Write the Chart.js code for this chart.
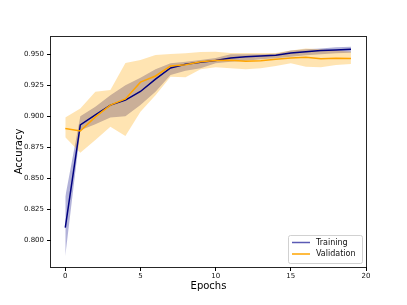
<!DOCTYPE html>
<html>
<head>
<meta charset="utf-8">
<script src="https://cdn.jsdelivr.net/npm/chart.js@4"></script>
<style>
html,body{margin:0;padding:0;background:#fff;}
canvas{display:block;}
</style>
</head>
<body>
<canvas id="c" width="407" height="305"></canvas>
<script>
const epochs = [0,1,2,3,4,5,6,7,8,9,10,11,12,13,14,15,16,17,18,19];
const trainAcc = [0.810,0.893,0.901,0.909,0.913,0.920,0.930,0.939,0.942,0.9435,0.945,0.947,0.948,0.9487,0.9492,0.951,0.952,0.953,0.9535,0.954];
const trainUpper = [0.835,0.900,0.9076,0.917,0.925,0.931,0.938,0.9427,0.944,0.9455,0.947,0.950,0.950,0.950,0.9505,0.953,0.954,0.9548,0.9557,0.9562];
const trainLower = [0.787,0.8887,0.8936,0.899,0.900,0.909,0.9197,0.9333,0.9367,0.9387,0.9427,0.944,0.9448,0.946,0.9468,0.948,0.9492,0.950,0.9508,0.9513];
const valAcc = [0.890,0.888,0.8995,0.909,0.914,0.9275,0.9325,0.9405,0.9415,0.944,0.945,0.9452,0.9445,0.9448,0.946,0.947,0.9476,0.9465,0.9468,0.9466];
const valUpper = [0.899,0.9063,0.9197,0.9211,0.943,0.9455,0.9494,0.9502,0.9508,0.9519,0.952,0.951,0.951,0.951,0.951,0.953,0.9548,0.954,0.953,0.952];
const valLower = [0.883,0.8704,0.8807,0.8914,0.884,0.9036,0.917,0.9319,0.9314,0.9379,0.9395,0.9387,0.9379,0.9387,0.9405,0.9427,0.940,0.9395,0.9413,0.9421];
const xTicks = [0,5,10,15,20];
const yTicks = [0.800,0.825,0.850,0.875,0.900,0.925,0.950];
const seriesNames = ['Training','Validation'];

const pts = arr => arr.map((v,i)=>({x:epochs[i], y:v}));
const FONT = "'DejaVu Sans', sans-serif";

const frameAndLegend = {
  id: 'frameAndLegend',
  afterDraw(chart) {
    const ctx = chart.ctx;
    const a = chart.chartArea;
    ctx.save();
    ctx.strokeStyle = 'rgba(0,0,0,0.85)';
    ctx.lineWidth = 1;
    ctx.strokeRect(Math.round(a.left)-0.5, Math.round(a.top)+0.5, Math.round(a.right-a.left)+1, Math.round(a.bottom-a.top));
    // legend
    const items = chart.data.datasets.filter(d => d.inLegend);
    const bx = a.right - 78, by = a.bottom - 32, bw = 74, bh = 28;
    ctx.beginPath();
    if (ctx.roundRect) ctx.roundRect(bx+0.5, by+0.5, bw, bh, 2); else ctx.rect(bx+0.5, by+0.5, bw, bh);
    ctx.fillStyle = 'rgba(255,255,255,0.8)';
    ctx.fill();
    ctx.strokeStyle = 'rgba(204,204,204,0.9)';
    ctx.stroke();
    ctx.font = '8px ' + FONT;
    ctx.textBaseline = 'middle';
    ctx.textAlign = 'left';
    items.forEach((d,i) => {
      const y = by + 7.5 + i*11.5;
      ctx.strokeStyle = d.legendColor;
      ctx.lineWidth = 1.5;
      ctx.beginPath();
      ctx.moveTo(bx+4, y); ctx.lineTo(bx+22, y);
      ctx.stroke();
      ctx.fillStyle = '#111';
      ctx.fillText(d.label, bx+28, y);
    });
    ctx.restore();
  }
};

new Chart(document.getElementById('c'), {
  type: 'line',
  data: {
    datasets: [
      {label: seriesNames[0], data: pts(trainAcc), borderColor: '#000080', borderWidth: 1.5, pointRadius: 0, fill: false, order: 2, inLegend: true, legendColor: '#5a5ab4'},
      {label: seriesNames[1], data: pts(valAcc), borderColor: '#ffa500', borderWidth: 1.5, pointRadius: 0, fill: false, order: 1, inLegend: true, legendColor: '#ffa500'},
      {label: 'trainLower', data: pts(trainLower), borderWidth: 0, borderColor: 'rgba(0,0,0,0)', pointRadius: 0, fill: false, order: 6},
      {label: 'trainUpper', data: pts(trainUpper), borderWidth: 0, borderColor: 'rgba(0,0,0,0)', pointRadius: 0, fill: 2, backgroundColor: 'rgba(0,0,128,0.3)', order: 5},
      {label: 'valLower', data: pts(valLower), borderWidth: 0, borderColor: 'rgba(0,0,0,0)', pointRadius: 0, fill: false, order: 4},
      {label: 'valUpper', data: pts(valUpper), borderWidth: 0, borderColor: 'rgba(0,0,0,0)', pointRadius: 0, fill: 4, backgroundColor: 'rgba(255,165,0,0.3)', order: 3}
    ]
  },
  options: {
    responsive: false,
    animation: false,
    devicePixelRatio: 1,
    layout: {padding: {left: 0, top: 36, right: 41, bottom: 0}},
    plugins: {legend: {display: false}, tooltip: {enabled: false}},
    elements: {line: {tension: 0}},
    scales: {
      x: {
        type: 'linear', min: -0.95, max: 20,
        afterBuildTicks: s => { s.ticks = xTicks.map(v => ({value: v})); },
        afterFit: s => { s.height = 38; },
        grid: {display: true, drawOnChartArea: false, drawTicks: true, tickLength: 4, tickColor: '#000', tickWidth: 1},
        border: {display: false},
        ticks: {color: '#111', font: {family: FONT, size: 7}, padding: 1, maxRotation: 0, callback: v => String(v)},
        title: {display: true, text: 'Epochs', color: '#000', font: {family: FONT, size: 10}, padding: {top: 0, bottom: 13}}
      },
      y: {
        type: 'linear', min: 0.7782, max: 0.9648,
        afterBuildTicks: s => { s.ticks = yTicks.map(v => ({value: v})); },
        afterFit: s => { s.width = 51; },
        grid: {display: true, drawOnChartArea: false, drawTicks: true, tickLength: 4, tickColor: '#000', tickWidth: 1},
        border: {display: false},
        ticks: {color: '#111', font: {family: FONT, size: 7}, padding: 3, callback: v => Number(v).toFixed(3)},
        title: {display: true, text: 'Accuracy', color: '#000', font: {family: FONT, size: 10}, padding: {top: 13, bottom: 0}}
      }
    }
  },
  plugins: [frameAndLegend]
});
</script>
</body>
</html>
